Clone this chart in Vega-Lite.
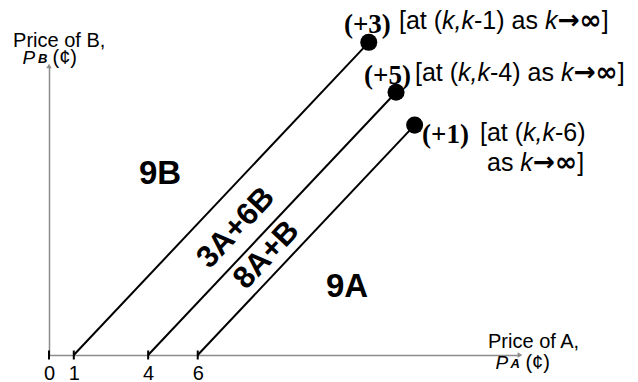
{
  "$schema": "https://vega.github.io/schema/vega-lite/v6.json",
  "width": 471,
  "height": 289,
  "autosize": {"type": "none"},
  "padding": {"left": 49, "top": 66, "right": 118, "bottom": 27},
  "background": "white",
  "config": {"view": {"stroke": null}, "font": "Liberation Sans"},
  "encoding": {
    "x": {"field": "x", "type": "quantitative",
      "scale": {"domain": [0, 19], "nice": false, "zero": false},
      "axis": {"values": [0, 1, 4, 6], "title": null, "grid": false, "ticks": false,
        "domainColor": "#8c8c8c", "domainWidth": 1.5, "labelFontSize": 20, "labelColor": "#000000",
        "labelPadding": 8, "labelFont": "Liberation Sans", "labelFlush": false, "labelOverlap": false}},
    "y": {"field": "y", "type": "quantitative",
      "scale": {"domain": [0, 11], "nice": false, "zero": false},
      "axis": {"title": null, "grid": false, "ticks": false, "labels": false,
        "domainColor": "#8c8c8c", "domainWidth": 1.5}}
  },
  "layer": [
    {
      "data": {"values": [
        {"line": 1, "x": 1, "y": 0}, {"line": 1, "x": 12.9, "y": 11.9},
        {"line": 2, "x": 4, "y": 0}, {"line": 2, "x": 14, "y": 10},
        {"line": 3, "x": 6, "y": 0}, {"line": 3, "x": 14.75, "y": 8.75}
      ]},
      "mark": {"type": "line", "color": "#000000", "strokeWidth": 2},
      "encoding": {"detail": {"field": "line", "type": "nominal"}}
    },
    {
      "data": {"values": [
        {"x": 12.9, "y": 11.9}, {"x": 14, "y": 10}, {"x": 14.75, "y": 8.75}
      ]},
      "mark": {"type": "point", "filled": true, "color": "#000000", "opacity": 1, "size": 290}
    },
    {
      "data": {"values": [{"x": 0, "y": 0}, {"x": 1, "y": 0}, {"x": 4, "y": 0}, {"x": 6, "y": 0}]},
      "mark": {"type": "tick", "orient": "vertical", "color": "#000000", "thickness": 2, "size": 9, "opacity": 1}
    },
    {
      "data": {"values": [{"x": 19, "y": 0, "s": "triangle-right"}, {"x": 0, "y": 11, "s": "triangle-up"}]},
      "mark": {"type": "point", "filled": true, "color": "#8c8c8c", "opacity": 1, "size": 30},
      "encoding": {"shape": {"field": "s", "type": "nominal", "scale": null}}
    },
    {
      "data": {"values": [{"x": 4.48, "y": 6.89, "t": "9B"}, {"x": 12.02, "y": 2.59, "t": "9A"}]},
      "mark": {"type": "text", "fontSize": 33, "fontWeight": "bold", "align": "center", "baseline": "middle", "color": "#000000"},
      "encoding": {"text": {"field": "t"}}
    },
    {
      "data": {"values": [{"x": 7.55, "y": 4.83, "t": "3A+6B"}, {"x": 8.78, "y": 3.8, "t": "8A+B"}]},
      "mark": {"type": "text", "fontSize": 31, "fontWeight": "bold", "align": "center", "baseline": "middle", "angle": -47, "color": "#000000"},
      "encoding": {"text": {"field": "t"}}
    },
    {
      "data": {"values": [
        {"x": 11.9, "y": 12.55, "t": "(+3)"},
        {"x": 12.71, "y": 10.62, "t": "(+5)"},
        {"x": 15.05, "y": 8.37, "t": "(+1)"}
      ]},
      "mark": {"type": "text", "font": "Liberation Serif", "fontSize": 27, "fontWeight": "bold", "align": "left", "baseline": "middle", "color": "#000000"},
      "encoding": {"text": {"field": "t"}}
    },
    {
      "data": {"values": [
        {"x": 14.119, "y": 12.7, "t": "[at ("},
        {"x": 17.144, "y": 12.7, "t": "-1) as"},
        {"x": 22.3, "y": 12.7, "t": "]"},
        {"x": 14.764, "y": 10.73, "t": "[at ("},
        {"x": 17.79, "y": 10.73, "t": "-4) as"},
        {"x": 22.946, "y": 10.73, "t": "]"},
        {"x": 17.386, "y": 8.45, "t": "[at ("},
        {"x": 20.412, "y": 8.45, "t": "-6)"},
        {"x": 17.668, "y": 7.31, "t": "as"},
        {"x": 21.31, "y": 7.31, "t": "]"}
      ]},
      "mark": {"type": "text", "fontSize": 25, "align": "left", "baseline": "middle", "color": "#000000"},
      "encoding": {"text": {"field": "t"}}
    },
    {
      "data": {"values": [
        {"x": 15.857, "y": 12.7, "t": "k,k"},
        {"x": 20.004, "y": 12.7, "t": "k"},
        {"x": 16.503, "y": 10.73, "t": "k,k"},
        {"x": 20.65, "y": 10.73, "t": "k"},
        {"x": 19.125, "y": 8.45, "t": "k,k"},
        {"x": 19.015, "y": 7.31, "t": "k"}
      ]},
      "mark": {"type": "text", "fontSize": 25, "fontStyle": "italic", "align": "left", "baseline": "middle", "color": "#000000"},
      "encoding": {"text": {"field": "t"}}
    },
    {
      "data": {"values": [
        {"x": 20.508, "y": 12.7, "t": "→∞"},
        {"x": 21.154, "y": 10.73, "t": "→∞"},
        {"x": 19.518, "y": 7.31, "t": "→∞"}
      ]},
      "mark": {"type": "text", "font": "DejaVu Sans", "fontSize": 26.5, "fontWeight": "bold", "align": "left", "baseline": "middle", "color": "#000000"},
      "encoding": {"text": {"field": "t"}}
    },
    {
      "data": {"values": [
        {"x": -1.45, "y": 11.95, "t": "Price of B,"},
        {"x": 17.71, "y": 0.48, "t": "Price of A,"},
        {"x": 0.14, "y": 11.31, "t": "(¢)"},
        {"x": 19.22, "y": -0.32, "t": "(¢)"}
      ]},
      "mark": {"type": "text", "fontSize": 20, "align": "left", "baseline": "middle", "color": "#000000"},
      "encoding": {"text": {"field": "t"}}
    },
    {
      "data": {"values": [
        {"x": -1.07, "y": 11.31, "t": "P"},
        {"x": 18.01, "y": -0.32, "t": "P"}
      ]},
      "mark": {"type": "text", "fontSize": 19, "fontStyle": "italic", "align": "left", "baseline": "middle", "color": "#000000"},
      "encoding": {"text": {"field": "t"}}
    },
    {
      "data": {"values": [
        {"x": -0.44, "y": 11.27, "t": "B"},
        {"x": 18.62, "y": -0.36, "t": "A"}
      ]},
      "mark": {"type": "text", "fontSize": 13, "fontStyle": "italic", "fontWeight": "bold", "align": "left", "baseline": "middle", "color": "#000000"},
      "encoding": {"text": {"field": "t"}}
    }
  ]
}
